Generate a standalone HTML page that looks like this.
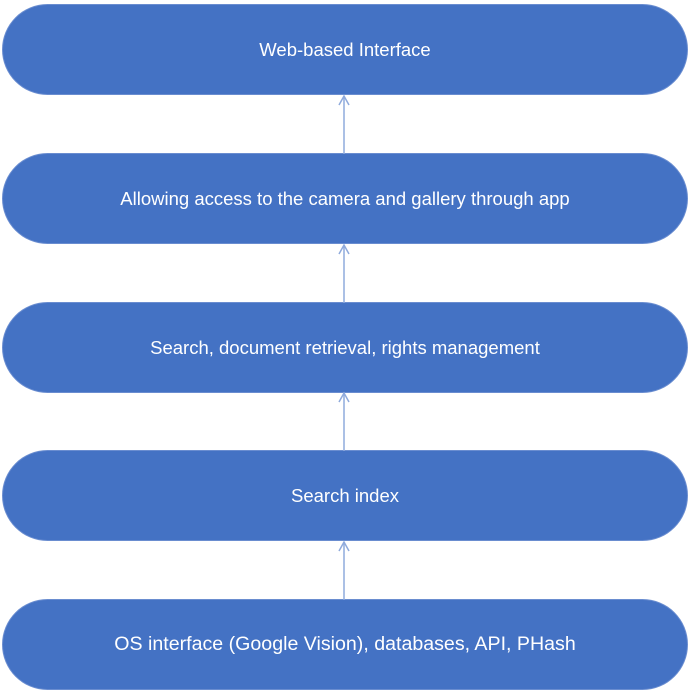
<!DOCTYPE html>
<html><head><style>
body{margin:0;width:691px;height:697px;background:#fff;position:relative;font-family:"Liberation Sans",sans-serif;overflow:hidden}
.b{position:absolute;left:3px;width:684px;height:89px;background:#4472c4;border-radius:45px;color:#fff;display:flex;align-items:center;justify-content:center;font-size:18.5px;box-shadow:0 0 0 1px #6a8dd0}
svg{position:absolute;left:0;top:0}
</style></head><body>
<div class="b" style="top:5px">Web-based Interface</div>
<div class="b" style="top:154px">Allowing access to the camera and gallery through app</div>
<div class="b" style="top:303px">Search, document retrieval, rights management</div>
<div class="b" style="top:451px">Search index</div>
<div class="b" style="top:600px;font-size:19.6px">OS interface (Google Vision), databases, API, PHash</div>
<svg width="691" height="697">
<g stroke="#8faadc" stroke-width="1.5" fill="none">
<line x1="344" y1="154" x2="344" y2="96"/><polyline points="339,105 344,96 349,105"/>
<line x1="344" y1="303" x2="344" y2="245"/><polyline points="339,254 344,245 349,254"/>
<line x1="344" y1="451" x2="344" y2="393"/><polyline points="339,402 344,393 349,402"/>
<line x1="344" y1="600" x2="344" y2="542"/><polyline points="339,551 344,542 349,551"/>
</g></svg>
</body></html>
